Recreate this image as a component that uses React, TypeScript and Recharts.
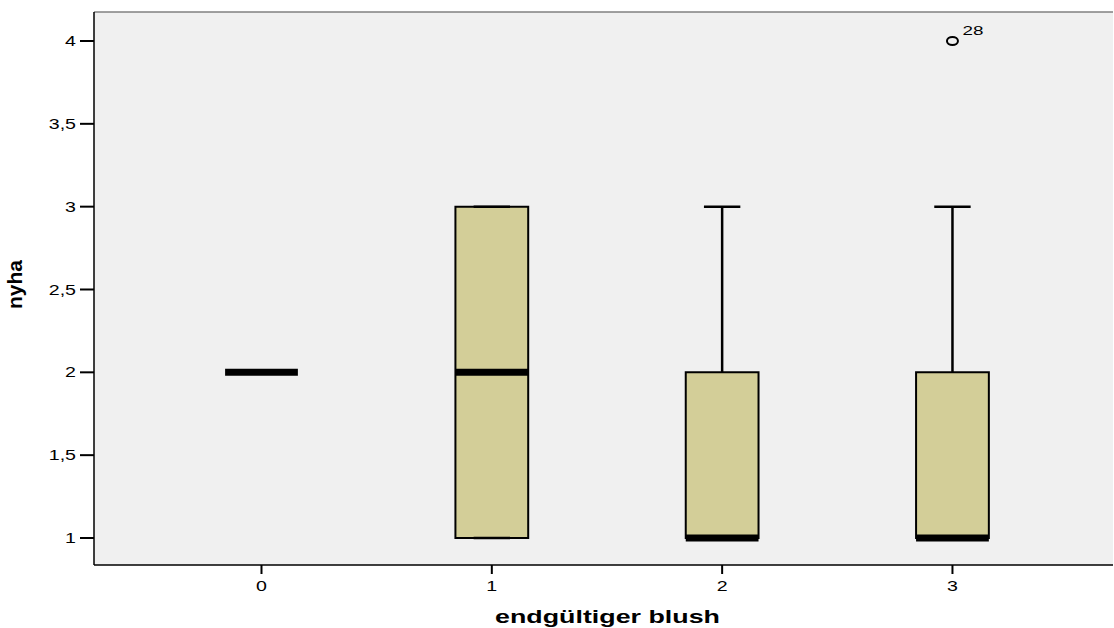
import React from "react";
import {
  ComposedChart,
  XAxis,
  YAxis,
  Scatter,
  ReferenceArea,
  ReferenceLine,
  Label,
} from "recharts";

// box plot summary per category of "endgültiger blush"
const categories = [0, 1, 2, 3];
const mins = [2, 1, 1, 1];
const q1s = [2, 1, 1, 1];
const medians = [2, 2, 1, 1];
const q3s = [2, 3, 2, 2];
const maxs = [2, 3, 3, 3];
const outliers = [{ x: 3, y: 4, id: 28 }];

const yTicks = [1, 1.5, 2, 2.5, 3, 3.5, 4];
const xDomain = [-0.7272, 3.697];
const yDomain = [0.837, 4.175];

const BOX_HALF = 0.158;
const CAP_HALF = 0.079;
const FONT = "'Liberation Sans', Arial, sans-serif";

const fmt = (v: number) => String(v).replace(".", ",");

const YTick = (props: any) => {
  const { x, y, payload } = props;
  return (
    <g transform={`translate(${x},${y})`}>
      <text x={0} y={0} dy="0.36em" textAnchor="end" transform="scale(1.4,1)" fontSize={14} fontFamily={FONT} fill="#000">
        {fmt(payload.value)}
      </text>
    </g>
  );
};

const XTick = (props: any) => {
  const { x, y, payload } = props;
  return (
    <g transform={`translate(${x},${y})`}>
      <text x={0} y={0} dy={10} textAnchor="middle" transform="scale(1.4,1)" fontSize={14} fontFamily={FONT} fill="#000">
        {payload.value}
      </text>
    </g>
  );
};

const Outlier = (props: any) => {
  const { cx, cy, payload } = props;
  return (
    <g>
      <ellipse cx={cx} cy={cy} rx={5.5} ry={4} fill="none" stroke="#000" strokeWidth={2} />
      <g transform={`translate(${cx + 10},${cy - 6})`}>
        <text x={0} y={0} transform="scale(1.45,1)" fontSize={13} fontFamily={FONT} fill="#000">
          {payload.id}
        </text>
      </g>
    </g>
  );
};

export default function App() {
  return (
    <div style={{ position: "absolute", left: 0, top: 0, width: 1114, height: 628, background: "#fff" }}>
      <ComposedChart width={1114} height={628} margin={{ top: 12, right: 1, bottom: 0, left: 0 }}>
        <XAxis
          type="number"
          dataKey="x"
          domain={xDomain}
          ticks={categories}
          allowDataOverflow
          height={63}
          tickSize={9}
          tickMargin={7}
          axisLine={{ stroke: "#000", strokeWidth: 1.5 }}
          tickLine={{ stroke: "#000", strokeWidth: 2 }}
          tick={<XTick />}
        >
          <Label
            content={(p: any) => {
              const vb = p.viewBox;
              return (
                <g transform={`translate(${vb.x + vb.width / 2 + 4},${vb.y + 58})`}>
                  <text x={0} y={0} textAnchor="middle" transform="scale(1.49,1)" fontSize={18} fontWeight="bold" fontFamily={FONT} fill="#000">
                    endgültiger blush
                  </text>
                </g>
              );
            }}
          />
        </XAxis>
        <YAxis
          type="number"
          dataKey="y"
          domain={yDomain}
          ticks={yTicks}
          allowDataOverflow
          width={94}
          tickSize={14}
          tickMargin={4}
          axisLine={{ stroke: "#000", strokeWidth: 1.5 }}
          tickLine={{ stroke: "#000", strokeWidth: 2 }}
          tick={<YTick />}
        >
          <Label
            content={(p: any) => {
              const vb = p.viewBox;
              const cy = vb.y + vb.height / 2 - 4;
              return (
                <text
                  x={22}
                  y={cy}
                  transform={`rotate(-90, 22, ${cy})`}
                  textAnchor="middle"
                  fontSize={21}
                  fontWeight="bold"
                  fontFamily={FONT}
                  fill="#000"
                >
                  nyha
                </text>
              );
            }}
          />
        </YAxis>

        <ReferenceArea y1={yDomain[0]} y2={yDomain[1]} fill="#f0f0f0" fillOpacity={1} stroke="none" />
        <ReferenceLine y={yDomain[1]} stroke="#808080" strokeWidth={1.5} />

        {categories.map((c, i) =>
          q3s[i] > q1s[i] ? (
            <ReferenceArea
              key={`box-${c}`}
              x1={c - BOX_HALF}
              x2={c + BOX_HALF}
              y1={q1s[i]}
              y2={q3s[i]}
              fill="#d3ce98"
              fillOpacity={1}
              stroke="#000"
              strokeWidth={2}
            />
          ) : null
        )}

        {categories.map((c, i) =>
          maxs[i] > q3s[i] ? (
            <ReferenceLine key={`wu-${c}`} segment={[{ x: c, y: q3s[i] }, { x: c, y: maxs[i] }]} stroke="#000" strokeWidth={2.5} />
          ) : null
        )}
        {categories.map((c, i) =>
          mins[i] < q1s[i] ? (
            <ReferenceLine key={`wl-${c}`} segment={[{ x: c, y: mins[i] }, { x: c, y: q1s[i] }]} stroke="#000" strokeWidth={2.5} />
          ) : null
        )}
        {categories.map((c, i) => (
          <ReferenceLine key={`cu-${c}`} segment={[{ x: c - CAP_HALF, y: maxs[i] }, { x: c + CAP_HALF, y: maxs[i] }]} stroke="#000" strokeWidth={2.5} />
        ))}
        {categories.map((c, i) => (
          <ReferenceLine key={`cl-${c}`} segment={[{ x: c - CAP_HALF, y: mins[i] }, { x: c + CAP_HALF, y: mins[i] }]} stroke="#000" strokeWidth={2.5} />
        ))}
        {categories.map((c, i) => (
          <ReferenceLine key={`med-${c}`} segment={[{ x: c - BOX_HALF, y: medians[i] }, { x: c + BOX_HALF, y: medians[i] }]} stroke="#000" strokeWidth={7} />
        ))}

        <Scatter data={outliers} dataKey="y" isAnimationActive={false} shape={<Outlier />} />
      </ComposedChart>
    </div>
  );
}
